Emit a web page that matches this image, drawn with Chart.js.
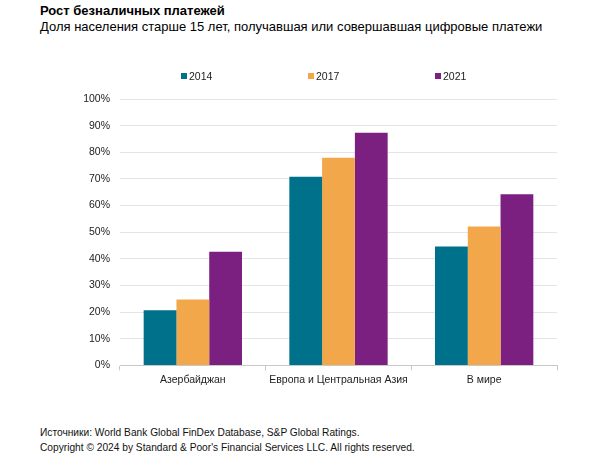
<!DOCTYPE html>
<html>
<head>
<meta charset="utf-8">
<script src="https://cdn.jsdelivr.net/npm/chart.js@4/dist/chart.umd.min.js"></script>
<style>
  html, body { margin: 0; padding: 0; background: #fff; width: 600px; height: 473px; overflow: hidden; font-family: "Liberation Sans", Arial, sans-serif; color: #000; }
  .t { position: absolute; left: 40px; white-space: nowrap; }
  #title { top: 3px; font-size: 13px; font-weight: bold; }
  #sub { top: 19px; font-size: 13px; }
  #src { top: 427px; font-size: 10.2px; color: #111; }
  #copy { top: 442px; font-size: 10.2px; color: #111; }
  #wrap { position: absolute; left: 0; top: 55px; width: 600px; height: 340px; }
  #legend { position: absolute; top: 69px; left: 0; width: 600px; height: 14px; }
  .li { position: absolute; top: 0; font-size: 10.5px; color: #222; white-space: nowrap; line-height: 14px; }
  .lb { display: inline-block; width: 6px; height: 6px; margin-right: 2px; vertical-align: 1px; }
</style>
</head>
<body>
<div class="t" id="title">Рост безналичных платежей</div>
<div class="t" id="sub">Доля населения старше 15 лет, получавшая или совершавшая цифровые платежи</div>
<div id="wrap"><canvas id="c"></canvas></div>
<div id="legend"></div>
<div class="t" id="src">Источники: World Bank Global FinDex Database, S&amp;P Global Ratings.</div>
<div class="t" id="copy">Copyright © 2024 by Standard &amp; Poor's Financial Services LLC. All rights reserved.</div>
<script>
const categories = ["Азербайджан", "Европа и Центральная Азия", "В мире"];
const years = ["2014", "2017", "2021"];
const values2014 = [20.7, 70.8, 44.6];
const values2017 = [24.7, 77.9, 52.1];
const values2021 = [42.7, 87.3, 64.2];
const colors = ["#00718A", "#F2A84A", "#7B1F80"];

const chart = new Chart(document.getElementById("c"), {
  type: "bar",
  data: {
    labels: categories,
    datasets: [
      { label: years[0], data: values2014, backgroundColor: colors[0] },
      { label: years[1], data: values2017, backgroundColor: colors[1] },
      { label: years[2], data: values2021, backgroundColor: colors[2] }
    ]
  },
  options: {
    responsive: true,
    maintainAspectRatio: false,
    animation: false,
    layout: { padding: { left: 0, right: 43, top: 44, bottom: 6 } },
    datasets: { bar: { categoryPercentage: 0.675, barPercentage: 1.0 } },
    plugins: {
      tooltip: { enabled: false },
      legend: { display: false }
    },
    scales: {
      x: {
        grid: { offset: true, drawOnChartArea: false, drawTicks: true, tickLength: 5, color: "#c8c8c8" },
        border: { color: "#c8c8c8" },
        ticks: { autoSkip: false, maxRotation: 0, minRotation: 0, color: "#222", font: { family: "Liberation Sans, Arial", size: 10.5 }, padding: 3 }
      },
      y: {
        min: 0, max: 100,
        afterFit: (a) => { a.width = 120; },
        grid: { color: "#e4e4e4", drawTicks: false },
        border: { display: false },
        ticks: { stepSize: 10, padding: 10, color: "#222", font: { family: "Liberation Sans, Arial", size: 10.5 }, callback: v => v + "%" }
      }
    }
  }
});

// HTML legend built from the chart's datasets
const legendX = [181, 308, 435];
const leg = document.getElementById("legend");
chart.data.datasets.forEach((ds, i) => {
  const item = document.createElement("span");
  item.className = "li";
  item.style.left = legendX[i] + "px";
  const box = document.createElement("span");
  box.className = "lb";
  box.style.background = ds.backgroundColor;
  item.appendChild(box);
  item.appendChild(document.createTextNode(ds.label));
  leg.appendChild(item);
});
</script>
</body>
</html>
